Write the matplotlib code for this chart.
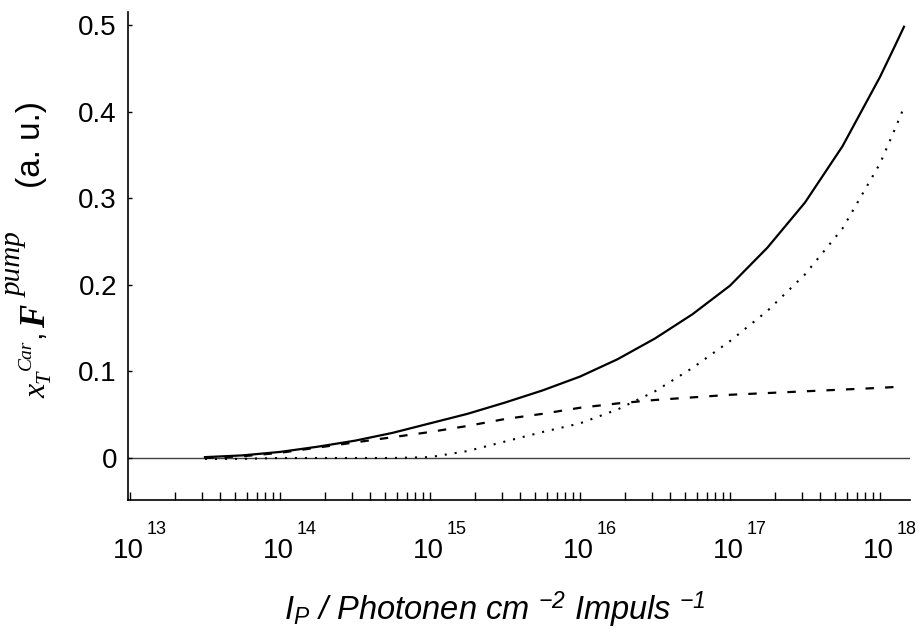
import matplotlib
matplotlib.use('Agg')
import matplotlib.pyplot as plt
import numpy as np

plt.rcParams['font.family'] = ['Liberation Sans', 'DejaVu Sans']
plt.rcParams['mathtext.fontset'] = 'custom'
plt.rcParams['mathtext.it'] = 'Liberation Serif:italic'
plt.rcParams['mathtext.rm'] = 'Liberation Serif'
plt.rcParams['mathtext.sf'] = 'Liberation Sans:italic'

# log10 of pump intensity (photons cm^-2 per pulse)
log_ip = [13.5, 13.75, 14.0, 14.25, 14.5, 14.75, 15.0, 15.25, 15.5, 15.75,
          16.0, 16.25, 16.5, 16.75, 17.0, 17.25, 17.5, 17.75, 18.0, 18.1, 18.16]
total = [0.001, 0.003, 0.007, 0.013, 0.020, 0.029, 0.040, 0.051, 0.064, 0.078,
         0.094, 0.114, 0.138, 0.166, 0.199, 0.243, 0.295, 0.360, 0.440, 0.476, 0.498]
triplet = [0.0, 0.002, 0.006, 0.012, 0.018, 0.024, 0.030, 0.037, 0.045, 0.051,
           0.058, 0.063, 0.067, 0.070, 0.073, 0.075, 0.077, 0.079, 0.081, 0.082, 0.083]
pump = [-0.001, -0.001, 0.0, 0.0, 0.0, 0.0, 0.001, 0.008, 0.019, 0.030,
        0.040, 0.056, 0.077, 0.104, 0.135, 0.170, 0.212, 0.265, 0.340, 0.380, 0.405]

decades = [13, 14, 15, 16, 17, 18]
yticks = [0, 0.1, 0.2, 0.3, 0.4, 0.5]
yticklabels = ['0', '0.1', '0.2', '0.3', '0.4', '0.5']

ip = 10.0 ** np.array(log_ip)

W, H = 922, 632
fig = plt.figure(figsize=(W / 100, H / 100), dpi=100)
ax = fig.add_axes([128 / W, 1 - 500 / H, (910 - 128) / W, (500 - 12) / H])

ax.axhline(0, color='0.25', lw=1.0, zorder=1)
ax.plot(ip, total, color='black', lw=1.6)
ax.plot(ip, triplet, color='black', lw=1.6, linestyle=(0, (3.8, 5.0)))
ax.plot(ip, pump, color='black', lw=1.5, linestyle=(0, (1.0, 3.8)))

ax.set_xscale('log')
ax.set_xlim(10 ** 12.987, 10 ** 18.2)
ax.set_ylim(-0.0485, 0.515)

for s in ['top', 'right']:
    ax.spines[s].set_visible(False)
for s in ['left', 'bottom']:
    ax.spines[s].set_linewidth(1.2)

ax.set_yticks(yticks)
ax.set_yticklabels(yticklabels, fontsize=20)
ax.tick_params(axis='y', direction='in', length=3, width=1, pad=8)

ax.set_xticks([10.0 ** d for d in decades])
ax.set_xticklabels([])
ax.xaxis.set_minor_locator(matplotlib.ticker.LogLocator(base=10, subs=np.arange(2, 10), numticks=20))
ax.xaxis.set_minor_formatter(matplotlib.ticker.NullFormatter())
ax.tick_params(axis='x', which='both', direction='in', length=5.5, width=1)

# decade labels: "10" with a detached exponent
xt = ax.get_xaxis_transform()
for d in decades:
    ax.annotate('10', xy=(10.0 ** d, 0), xycoords=xt, xytext=(-2, -51),
                textcoords='offset pixels', ha='center', va='center',
                fontsize=20, annotation_clip=False)
    ax.annotate(str(d), xy=(10.0 ** d, 0), xycoords=xt, xytext=(17, -30),
                textcoords='offset pixels', ha='left', va='center',
                fontsize=13, annotation_clip=False)

fig.text(495 / W, 1 - 620 / H,
         r'I$_\mathsf{P}$ / Photonen cm $^{\mathsf{-2}}$ Impuls $^{\mathsf{-1}}$',
         fontsize=23.5, style='italic', ha='center', va='baseline')

# y label built from pieces (rotated, reading bottom to top)
serif = 'Liberation Serif'
pieces = [
    # text, baseline x px, start y px, size, family, style, weight
    ('x', 45, 398, 23, serif, 'italic', 'normal'),
    ('T', 50, 383, 16, serif, 'italic', 'normal'),
    ('Car', 31, 370, 14, serif, 'italic', 'normal'),
    (',', 40, 338, 22, 'Liberation Sans', 'normal', 'normal'),
    ('F', 45, 328, 25, serif, 'italic', 'bold'),
    ('pump', 22, 297, 21, serif, 'italic', 'normal'),
    ('(a. u.)', 40, 188, 24, 'Liberation Sans', 'normal', 'normal'),
]
for txt, bx, by, size, fam, sty, wt in pieces:
    fig.text(bx / W, 1 - by / H, txt, fontsize=size, family=fam, style=sty,
             weight=wt, rotation=90, rotation_mode='anchor',
             ha='left', va='baseline')

plt.savefig('out.png', dpi=100, facecolor='white')
plt.close()
